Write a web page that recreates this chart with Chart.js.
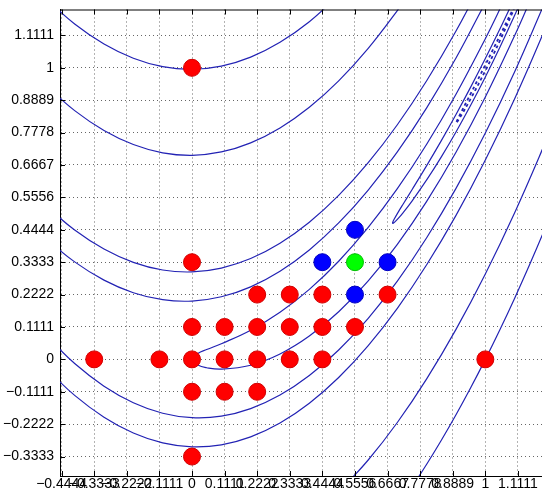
<!DOCTYPE html>
<html>
    <head>
        <title>Contours</title>
        <meta charset="UTF-8">
        <style>
          body { margin: 0; overflow: hidden; background: #fff; }
        </style>
    </head>
    <body>
        <!-- canvas is a bit wider than the window, the right edge of the axes is cut off like in the picture -->
        <canvas id="contourChart" width="560" height="495"></canvas>
        <script src="https://cdn.jsdelivr.net/npm/chart.js/dist/chart.umd.min.js"></script>

        <script>
          //****************************** data ******************************//
          const xTicks = [-0.4444, -0.3333, -0.2222, -0.1111, 0, 0.1111, 0.2222, 0.3333, 0.4444, 0.5556, 0.6667, 0.7778, 0.8889, 1, 1.1111];
          const xTickLabels = ['\u22120.4444', '\u22120.3333', '\u22120.2222', '\u22120.1111', '0', '0.1111', '0.2222', '0.3333', '0.4444', '0.5556', '0.6667', '0.7778', '0.8889', '1', '1.1111'];
          const yTicks = [-0.3333, -0.2222, -0.1111, 0, 0.1111, 0.2222, 0.3333, 0.4444, 0.5556, 0.6667, 0.7778, 0.8889, 1, 1.1111];
          const yTickLabels = ['\u22120.3333', '\u22120.2222', '\u22120.1111', '0', '0.1111', '0.2222', '0.3333', '0.4444', '0.5556', '0.6667', '0.7778', '0.8889', '1', '1.1111'];

          // points [x, y]
          const redPoints = [[0, 1], [0, 0.3333], [0.2222, 0.2222], [0.3333, 0.2222], [0.4444, 0.2222], [0.6667, 0.2222],
            [0, 0.1111], [0.1111, 0.1111], [0.2222, 0.1111], [0.3333, 0.1111], [0.4444, 0.1111], [0.5556, 0.1111],
            [-0.3333, 0], [-0.1111, 0], [0, 0], [0.1111, 0], [0.2222, 0], [0.3333, 0], [0.4444, 0], [1, 0],
            [0, -0.1111], [0.1111, -0.1111], [0.2222, -0.1111], [0, -0.3333]];
          const bluePoints = [[0.5556, 0.4444], [0.4444, 0.3333], [0.6667, 0.3333], [0.5556, 0.2222]];
          const greenPoints = [[0.5556, 0.3333]];

          // contour lines, [x, y]
          const c100Upper = [[-0.5, 1.2387], [-0.4, 1.1502], [-0.3, 1.0815], [-0.2, 1.0328], [-0.1, 1.0039], [0, 0.9950], [0.1, 1.0059], [0.2, 1.0368], [0.3, 1.0876], [0.4, 1.1582], [0.5, 1.2488]];
          const c100Lower = [[0.7, -0.5096], [0.75, -0.4372], [0.8, -0.3598], [0.85, -0.2774], [0.9, -0.1900], [0.95, -0.0975], [1.0, 0.0], [1.05, 0.1025], [1.1, 0.2100], [1.15, 0.3226], [1.2, 0.4402], [1.25, 0.5628]];
          const c50Upper = [[-0.5, 0.9410], [-0.4, 0.8531], [-0.3, 0.7851], [-0.2, 0.7369], [-0.1, 0.7085], [0, 0.7000], [0.1, 0.7114], [0.2, 0.7426], [0.3, 0.7936], [0.4, 0.8646], [0.5, 0.9553], [0.6, 1.0660], [0.7, 1.1965], [0.75, 1.2692]];
          const c50Lower = [[0.5, -0.4553], [0.6, -0.3460], [0.7, -0.2165], [0.8, -0.0668], [0.9, 0.1030], [1.0, 0.2929], [1.1, 0.5030], [1.2, 0.7332], [1.25, 0.8558]];
          const c10Upper = [[-0.5, 0.5284], [-0.4, 0.4436], [-0.3, 0.3783], [-0.2, 0.3326], [-0.1, 0.3065], [0, 0.3000], [0.1, 0.3132], [0.2, 0.3459], [0.3, 0.3984], [0.4, 0.4705], [0.5, 0.5623], [0.6, 0.6737], [0.7, 0.8048], [0.8, 0.9556], [0.9, 1.1261], [1.0, 1.3162]];
          const c10Lower = [[-0.5, -0.0284], [-0.4, -0.1236], [-0.3, -0.1983], [-0.2, -0.2526], [-0.1, -0.2865], [0, -0.3000], [0.1, -0.2932], [0.2, -0.2659], [0.3, -0.2184], [0.4, -0.1505], [0.5, -0.0623], [0.6, 0.0463], [0.7, 0.1752], [0.8, 0.3244], [0.9, 0.4939], [1.0, 0.6838], [1.1, 0.8939], [1.2, 1.1244], [1.25, 1.2473]];
          const c5Upper = [[-0.5, 0.4158], [-0.4, 0.3344], [-0.3, 0.2719], [-0.2, 0.2287], [-0.1, 0.2047], [0, 0.2000], [0.1, 0.2147], [0.2, 0.2488], [0.3, 0.3024], [0.4, 0.3754], [0.5, 0.4679], [0.6, 0.5800], [0.7, 0.7116], [0.8, 0.8627], [0.9, 1.0334], [1.0, 1.2236]];
          const c5Lower = [[-0.5, 0.0842], [-0.4, -0.0144], [-0.3, -0.0919], [-0.2, -0.1487], [-0.1, -0.1847], [0, -0.2000], [0.1, -0.1947], [0.2, -0.1688], [0.3, -0.1224], [0.4, -0.0554], [0.5, 0.0321], [0.6, 0.1400], [0.7, 0.2684], [0.8, 0.4173], [0.9, 0.5866], [1.0, 0.7764], [1.1, 0.9866], [1.2, 1.2173]];
          const c1Loop = [[1.1, 1.3095], [1.05, 1.2024], [1.0, 1.1000], [0.9, 0.9095], [0.8, 0.7380], [0.7, 0.5854], [0.6, 0.4517], [0.5, 0.3366], [0.4, 0.2400], [0.3, 0.1614], [0.2, 0.1000], [0.1, 0.0536], [0.05, 0.0337], [0.02, 0.0203], [0, 0],
            [0.02, -0.0195], [0.05, -0.0287], [0.1, -0.0336], [0.2, -0.0200], [0.3, 0.0186], [0.4, 0.0800], [0.5, 0.1634], [0.6, 0.2683], [0.7, 0.3946], [0.8, 0.5420], [0.9, 0.7105], [1.0, 0.9000], [1.1, 1.1105], [1.15, 1.2236]];
          const c01Loop = [[1.1, 1.2400], [1.05, 1.1337], [1.0, 1.0316], [0.95, 0.9337], [0.9, 0.8400], [0.85, 0.7503], [0.8, 0.6645], [0.75, 0.5819], [0.72, 0.5331], [0.7, 0.5000], [0.69, 0.4823], [0.685, 0.4720], [0.6838, 0.4676],
            [0.685, 0.4664], [0.69, 0.4699], [0.7, 0.4800], [0.72, 0.5037], [0.75, 0.5431], [0.8, 0.6155], [0.85, 0.6947], [0.9, 0.7800], [0.95, 0.8713], [1.0, 0.9684], [1.05, 1.0713], [1.1, 1.1800], [1.15, 1.2947]];
          const c001Loop = [[1.1, 1.2100], [1.09, 1.1925], [1.05, 1.1112], [1.0, 1.0100], [0.95, 0.9112], [0.92, 0.8524], [0.9, 0.8100],
            [0.92, 0.8404], [0.95, 0.8938], [1.0, 0.9900], [1.05, 1.0938], [1.09, 1.1837], [1.1, 1.2100]];

          //****************************** chart ******************************//
          const toXY = arr => arr.map(p => ({x: p[0], y: p[1]}));
          const lineColor = '#2323b4';

          function contour(points, dash){
            return {
              data: toXY(points),
              showLine: true,
              borderColor: lineColor,
              borderWidth: dash ? 1.8 : 1.2,
              borderDash: dash || [],
              pointRadius: 0,
              tension: 0.4,
              clip: 0,
              order: 2
            };
          }

          function markers(points, color, edge){
            return {
              data: toXY(points),
              pointRadius: 8.5,
              pointBackgroundColor: color,
              pointBorderColor: edge,
              pointBorderWidth: 1,
              order: 0
            };
          }

          // MATLAB style: ticks pointing inwards + top box line
          const innerTicks = {
            id: 'innerTicks',
            afterDraw(chart){
              const {ctx, chartArea: a, scales: {x, y}} = chart;
              ctx.save();
              ctx.strokeStyle = '#000';
              ctx.lineWidth = 1;
              ctx.beginPath();
              ctx.moveTo(a.left, a.top + 0.5);
              ctx.lineTo(a.right, a.top + 0.5);
              xTicks.forEach(v => {
                const px = Math.round(x.getPixelForValue(v)) + 0.5;
                ctx.moveTo(px, a.bottom); ctx.lineTo(px, a.bottom - 5);
                ctx.moveTo(px, a.top); ctx.lineTo(px, a.top + 5);
              });
              yTicks.forEach(v => {
                const py = Math.round(y.getPixelForValue(v)) + 0.5;
                ctx.moveTo(a.left, py); ctx.lineTo(a.left + 5, py);
              });
              ctx.stroke();
              ctx.restore();
            }
          };

          const gridOpts = {color: 'rgba(0,0,0,0.6)', lineWidth: 1, drawTicks: false};
          const borderOpts = {display: true, color: '#000', width: 1, dash: [1, 3]};
          const tickFont = {family: '"Liberation Sans", Arial, sans-serif', size: 14};

          new Chart(document.getElementById('contourChart'), {
            type: 'scatter',
            data: {
              datasets: [
                markers(greenPoints, '#00ff00', '#00c000'),
                markers(bluePoints, '#0000ff', '#0000c0'),
                markers(redPoints, '#ff0000', '#d00000'),
                contour(c100Upper), contour(c100Lower),
                contour(c50Upper), contour(c50Lower),
                contour(c10Upper), contour(c10Lower),
                contour(c5Upper), contour(c5Lower),
                contour(c1Loop), contour(c01Loop),
                contour(c001Loop, [3, 3])
              ]
            },
            options: {
              responsive: false,
              animation: false,
              layout: {padding: {left: 0, top: 6, right: 16, bottom: 0}},
              elements: {line: {capBezierPoints: false}},
              plugins: {legend: {display: false}, tooltip: {enabled: false}},
              scales: {
                x: {
                  type: 'linear',
                  min: -0.45,
                  max: 1.2,
                  grid: gridOpts,
                  border: borderOpts,
                  afterBuildTicks: s => { s.ticks = xTicks.map(v => ({value: v})); },
                  afterFit: s => { s.height = 19; s.paddingLeft = 0; s.paddingRight = 0; },
                  ticks: {
                    autoSkip: false, maxRotation: 0, minRotation: 0,
                    padding: 0, color: '#000', font: tickFont,
                    callback: (value, index) => xTickLabels[index]
                  }
                },
                y: {
                  type: 'linear',
                  min: -0.4,
                  max: 1.2,
                  grid: gridOpts,
                  border: borderOpts,
                  afterBuildTicks: s => { s.ticks = yTicks.map(v => ({value: v})); },
                  afterFit: s => { s.width = 60; s.paddingTop = 0; s.paddingBottom = 0; },
                  ticks: {
                    autoSkip: false,
                    padding: 6, color: '#000', font: tickFont,
                    callback: (value, index) => yTickLabels[index]
                  }
                }
              }
            },
            plugins: [innerTicks]
          });
        </script>
    </body>
</html>
